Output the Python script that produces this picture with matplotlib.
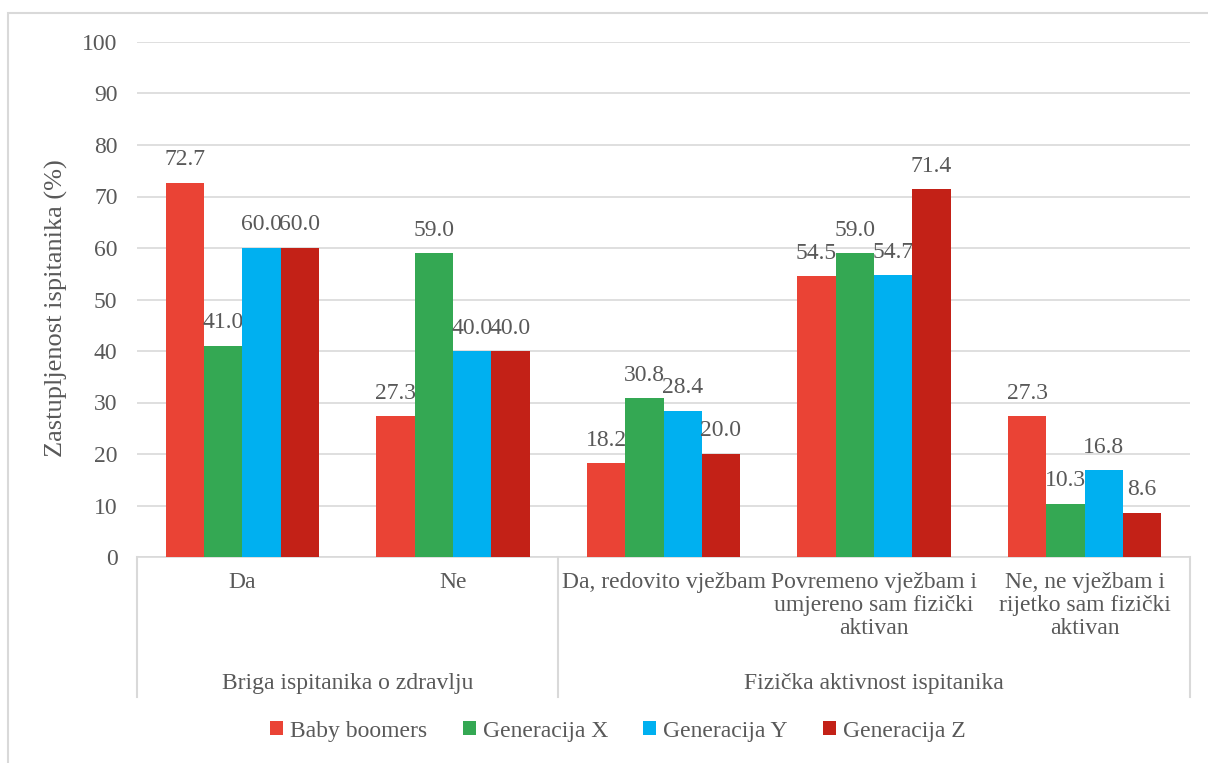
import numpy as np
import matplotlib.pyplot as plt
from matplotlib.patches import Rectangle
from matplotlib.lines import Line2D
import matplotlib.transforms as mtransforms

# Grouped bars with two-level category axis (Excel style)

categories = ["Da", "Ne", "Da, redovito vježbam",
              "Povremeno vježbam i\numjereno sam fizički\naktivan",
              "Ne, ne vježbam i\nrijetko sam fizički\naktivan"]
outer_groups = ["Briga ispitanika o zdravlju", "Fizička aktivnost ispitanika"]
outer_sizes = [2, 3]
series_names = ["Baby boomers", "Generacija X", "Generacija Y", "Generacija Z"]
baby_boomers = [72.7, 27.3, 18.2, 54.5, 27.3]
generacija_x = [41.0, 59.0, 30.8, 59.0, 10.3]
generacija_y = [60.0, 40.0, 28.4, 54.7, 16.8]
generacija_z = [60.0, 40.0, 20.0, 71.4, 8.6]
y_ticks = list(range(0, 101, 10))

colors = ["#EA4335", "#34A853", "#00B0F0", "#C32117"]
text_col = "#595959"
grid_col = "#D9D9D9"
fs = 17

plt.rcParams['font.family'] = ['Liberation Serif', 'DejaVu Serif']

W, H = 1208, 763
fig = plt.figure(figsize=(W / 100, H / 100), dpi=100)
ax = fig.add_axes([137 / W, 1 - 557 / H, (1190 - 137) / W, (557 - 42) / H])

series = [baby_boomers, generacija_x, generacija_y, generacija_z]
x = np.arange(len(categories))
bw = 0.182
for i, (name, vals) in enumerate(zip(series_names, series)):
    pos = x + (i - 1.5) * bw
    bars = ax.bar(pos, vals, bw, color=colors[i], label=name, zorder=3)
    for b, v in zip(bars, vals):
        ax.annotate("{:.1f}".format(v), (b.get_x() + b.get_width() / 2, v),
                    xytext=(0, 9), textcoords="offset points",
                    ha="center", va="bottom", fontsize=fs, color=text_col)

ax.set_xlim(-0.5, len(categories) - 0.5)
ax.set_ylim(0, 100)
ax.set_yticks(y_ticks)
ax.tick_params(axis="y", length=0, pad=14, labelsize=fs, labelcolor=text_col)
ax.set_xticks([])
ax.grid(axis="y", color=grid_col, lw=1.2, zorder=0)
for s in ["top", "right", "left"]:
    ax.spines[s].set_visible(False)
ax.spines["bottom"].set_color(grid_col)
ax.spines["bottom"].set_linewidth(1.2)

ax.set_ylabel("Zastupljenost ispitanika (%)", fontsize=19, color=text_col)
ax.yaxis.set_label_coords(-0.066, 0.483)

# category labels below the axis
trans = mtransforms.blended_transform_factory(ax.transData, ax.transAxes)
px = 1.0 / (557 - 42)
for xi, lab in zip(x, categories):
    ax.text(xi, -15 * px, lab, transform=trans, ha="center", va="top",
            fontsize=fs, color=text_col, linespacing=1.12)

edges = np.concatenate([[0], np.cumsum(outer_sizes)]) - 0.5
for e in edges:
    ax.add_line(Line2D([e, e], [0, -140 * px], transform=trans, color=grid_col,
                       lw=1.5, clip_on=False))
for k, g in enumerate(outer_groups):
    ax.text((edges[k] + edges[k + 1]) / 2, -127 * px, g, transform=trans,
            ha="center", va="center", fontsize=fs, color=text_col)

leg = fig.legend(loc="center", bbox_to_anchor=(618 / W, 1 - 731 / H), ncol=4,
                 frameon=False, fontsize=fs, handlelength=0.55, handleheight=0.55,
                 handletextpad=0.3, columnspacing=1.5, labelcolor=text_col)

# light border round the chart area
fig.add_artist(Rectangle((8 / W, -0.05), 1.1, 1 - 13 / H + 0.05,
                         transform=fig.transFigure, fill=False,
                         edgecolor=grid_col, lw=1.5))

fig.savefig("out.png", dpi=100)
